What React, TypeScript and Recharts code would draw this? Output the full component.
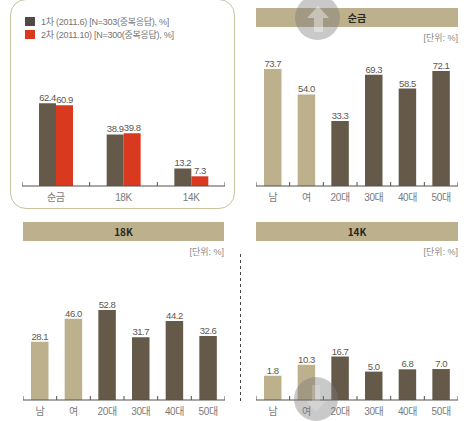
import React from "react";
import { BarChart, Bar, XAxis, YAxis, LabelList, Cell } from "recharts";

const materials = ["순금", "18K", "14K"];
const firstRound = [62.4, 38.9, 13.2];
const secondRound = [60.9, 39.8, 7.3];
const firstName = "1차 (2011.6) [N=303(중복응답), %]";
const secondName = "2차 (2011.10) [N=300(중복응답), %]";

const groups = ["남", "여", "20대", "30대", "40대", "50대"];
const goldValues = [73.7, 54.0, 33.3, 69.3, 58.5, 72.1];
const k18Values = [28.1, 46.0, 52.8, 31.7, 44.2, 32.6];
const k14Values = [1.8, 10.3, 16.7, 5.0, 6.8, 7.0];
const unitLabel = "[단위: %]";

const TAN = "#bdb08c";
const DARK = "#655a4a";
const RED = "#d8391f";
const LEGEND_DARK = "#4f4a45";
const FONT = "'Liberation Sans', 'Noto Sans CJK KR', sans-serif";
// The source charts' value axis does not start at zero: bars grow from this value.
const AXIS_MIN = -17;
const AXIS_MAX = 83;

const summary = materials.map((name, i) => ({ name, a: firstRound[i], b: secondRound[i] }));
const rows = (values: number[]) => groups.map((name, i) => ({ name, value: values[i] }));

const labelProps = {
  position: "top" as const,
  offset: 2,
  fontSize: 9.5,
  fontFamily: FONT,
  fill: "#5c5850",
  letterSpacing: -0.45,
  formatter: (v: any) => Number(v).toFixed(1),
};

function Tick({ x, y, payload, index, band, count, size }: any) {
  const left = x - band / 2;
  return (
    <g>
      <line x1={left} x2={left} y1={y - 4} y2={y} stroke="#55504a" />
      {index === count - 1 && <line x1={x + band / 2} x2={x + band / 2} y1={y - 4} y2={y} stroke="#55504a" />}
      <text x={x} y={y + 15} textAnchor="middle" fontSize={size} fontFamily={FONT} fill="#7a7a7a" letterSpacing={-0.4}>
        {payload.value}
      </text>
    </g>
  );
}

function GroupChart({ left, axisY, values }: { left: number; axisY: number; values: number[] }) {
  const width = 202;
  const plot = 129;
  return (
    <div style={{ position: "absolute", left, top: axisY - plot }}>
      <BarChart width={width} height={plot + 24} data={rows(values)} margin={{ top: 0, right: 0, bottom: 0, left: 0 }} barSize={17.5}>
        <YAxis hide domain={[AXIS_MIN, AXIS_MAX]} />
        <XAxis
          dataKey="name"
          height={24}
          interval={0}
          tickLine={false}
          tickSize={0}
          tickMargin={0}
          axisLine={{ stroke: "#55504a" }}
          tick={(p: any) => <Tick {...p} band={width / 6} count={6} size={10} />}
        />
        <Bar dataKey={(d: any) => [AXIS_MIN, d.value]} isAnimationActive={false}>
          {groups.map((_, i) => (
            <Cell key={i} fill={i < 2 ? TAN : DARK} />
          ))}
          <LabelList dataKey="value" {...labelProps} />
        </Bar>
      </BarChart>
    </div>
  );
}

function TitleBar({ left, top, width, text }: { left: number; top: number; width: number; text: string }) {
  return (
    <div
      style={{
        position: "absolute", left, top, width, height: 19, background: TAN, textAlign: "center",
        fontFamily: "'Noto Sans CJK KR', sans-serif", fontWeight: 700, fontSize: 10, lineHeight: "19px", color: "#2a2620",
      }}
    >
      {text}
    </div>
  );
}

function Unit({ right, top }: { right: number; top: number }) {
  return (
    <div style={{ position: "absolute", right, top, fontFamily: FONT, fontSize: 9, color: "#8a8a8a", lineHeight: "12px" }}>
      {unitLabel}
    </div>
  );
}

function LegendRow({ top, color, text }: { top: number; color: string; text: string }) {
  return (
    <div style={{ position: "absolute", left: 25, top, height: 10, display: "flex", alignItems: "center" }}>
      <div style={{ width: 10, height: 9, background: color, marginRight: 6 }} />
      <span style={{ fontFamily: FONT, fontSize: 9, letterSpacing: -0.25, color: "#747474", whiteSpace: "nowrap" }}>{text}</span>
    </div>
  );
}

export default function App() {
  const p1Width = 203;
  return (
    <div style={{ position: "absolute", left: 0, top: 0, width: 470, height: 421, overflow: "hidden", background: "#fff" }}>
      <div style={{ position: "absolute", left: 10, top: -1, width: 225, height: 210, border: "1px solid #c9c3a0", borderRadius: 16, boxSizing: "border-box" }} />
      <LegendRow top={16} color={LEGEND_DARK} text={firstName} />
      <LegendRow top={29} color={RED} text={secondName} />
      <div style={{ position: "absolute", left: 22, top: 56 }}>
        <BarChart width={p1Width} height={130 + 24} data={summary} margin={{ top: 0, right: 0, bottom: 0, left: 0 }} barSize={17} barGap={0}>
          <YAxis hide domain={[0, 98]} />
          <XAxis
            dataKey="name"
            height={24}
            interval={0}
            tickLine={false}
            tickSize={0}
            tickMargin={0}
            axisLine={{ stroke: "#55504a" }}
            tick={(p: any) => <Tick {...p} band={p1Width / 3} count={3} size={10} />}
          />
          <Bar dataKey="a" fill={DARK} isAnimationActive={false}>
            <LabelList dataKey="a" {...labelProps} />
          </Bar>
          <Bar dataKey="b" fill={RED} isAnimationActive={false}>
            <LabelList dataKey="b" {...labelProps} />
          </Bar>
        </BarChart>
      </div>

      <TitleBar left={256} top={8} width={202} text={materials[0]} />
      <Unit right={12} top={32} />
      <GroupChart left={256} axisY={186} values={goldValues} />

      <TitleBar left={23} top={222} width={201} text={materials[1]} />
      <Unit right={246} top={246} />
      <GroupChart left={23} axisY={400} values={k18Values} />

      <TitleBar left={256} top={222} width={202} text={materials[2]} />
      <Unit right={12} top={246} />
      <GroupChart left={256} axisY={400} values={k14Values} />

      <svg width={470} height={421} style={{ position: "absolute", left: 0, top: 0, pointerEvents: "none" }}>
        <line x1={240.5} x2={240.5} y1={254} y2={401} stroke="#444" strokeDasharray="3 3" />
        <circle cx={317.5} cy={17.5} r={22.5} fill="rgba(120,120,120,0.4)" />
        <path d="M318 6 L307 18 L314 18 L314 32 L323 32 L323 18 L329 18 Z" fill="rgba(255,255,255,0.4)" />
        <circle cx={316} cy={399} r={22} fill="rgba(120,120,120,0.4)" />
        <path d="M316 412 L306 401 L312 401 L312 385 L320 385 L320 401 L326 401 Z" fill="rgba(255,255,255,0.2)" />
      </svg>
    </div>
  );
}
